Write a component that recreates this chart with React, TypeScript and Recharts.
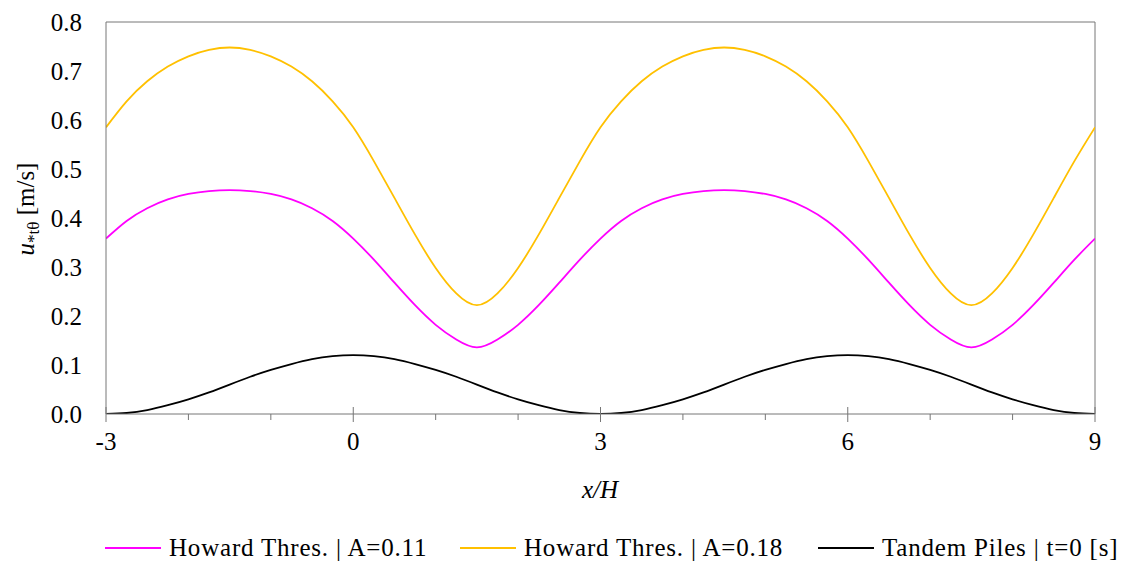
import React from "react";
import {
  LineChart,
  Line,
  XAxis,
  YAxis,
  Legend,
  ReferenceLine,
} from "recharts";

const FONT =
  "'Liberation Serif', Tinos, 'Times New Roman', Times, 'Nimbus Roman', 'DejaVu Serif', serif";

// x/H positions, step 0.25
const xValues = [
  -3, -2.75, -2.5, -2.25, -2, -1.75, -1.5, -1.25, -1, -0.75, -0.5, -0.25, 0,
  0.25, 0.5, 0.75, 1, 1.25, 1.5, 1.75, 2, 2.25, 2.5, 2.75, 3, 3.25, 3.5, 3.75,
  4, 4.25, 4.5, 4.75, 5, 5.25, 5.5, 5.75, 6, 6.25, 6.5, 6.75, 7, 7.25, 7.5,
  7.75, 8, 8.25, 8.5, 8.75, 9,
];

// Howard Thres. | A=0.11 (magenta)
const howard011 = [
  0.358, 0.394, 0.42, 0.438, 0.449, 0.455, 0.457, 0.455, 0.449, 0.438, 0.42,
  0.394, 0.358, 0.315, 0.268, 0.222, 0.182, 0.152, 0.136, 0.152, 0.182, 0.222,
  0.268, 0.315, 0.358, 0.394, 0.42, 0.438, 0.449, 0.455, 0.457, 0.455, 0.449,
  0.438, 0.42, 0.394, 0.358, 0.315, 0.268, 0.222, 0.182, 0.152, 0.136, 0.152,
  0.182, 0.222, 0.268, 0.315, 0.358,
];

// Howard Thres. | A=0.18 (yellow)
const howard018 = [
  0.585, 0.638, 0.679, 0.709, 0.73, 0.743, 0.748, 0.743, 0.73, 0.709, 0.679,
  0.638, 0.585, 0.516, 0.441, 0.366, 0.298, 0.246, 0.222, 0.246, 0.298, 0.366,
  0.441, 0.516, 0.585, 0.638, 0.679, 0.709, 0.73, 0.743, 0.748, 0.743, 0.73,
  0.709, 0.679, 0.638, 0.585, 0.516, 0.441, 0.366, 0.298, 0.246, 0.222, 0.246,
  0.298, 0.366, 0.441, 0.516, 0.585,
];

// Tandem Piles | t=0 [s] (black)
const tandemPiles = [
  0, 0.002, 0.008, 0.018, 0.03, 0.044, 0.06, 0.076, 0.09, 0.102, 0.112, 0.118,
  0.12, 0.118, 0.112, 0.102, 0.09, 0.076, 0.06, 0.044, 0.03, 0.018, 0.008,
  0.002, 0, 0.002, 0.008, 0.018, 0.03, 0.044, 0.06, 0.076, 0.09, 0.102, 0.112,
  0.118, 0.12, 0.118, 0.112, 0.102, 0.09, 0.076, 0.06, 0.044, 0.03, 0.018,
  0.008, 0.002, 0,
];

const xTicks = [-3, -2, -1, 0, 1, 2, 3, 4, 5, 6, 7, 8, 9];
const yTicks = [0, 0.1, 0.2, 0.3, 0.4, 0.5, 0.6, 0.7, 0.8];

const series = [
  { key: "a011", name: "Howard Thres. | A=0.11", color: "#ff00ff" },
  { key: "a018", name: "Howard Thres. | A=0.18", color: "#ffc000" },
  { key: "tandem", name: "Tandem Piles | t=0 [s]", color: "#000000" },
];

const data = xValues.map((x, i) => ({
  x,
  a011: howard011[i],
  a018: howard018[i],
  tandem: tandemPiles[i],
}));

const AXIS = "#767676";

const XTick = (props: any) => {
  const { x, y, payload } = props;
  const v = payload.value;
  const major = v % 3 === 0;
  return (
    <g>
      <line
        x1={x}
        x2={x}
        y1={major ? y - 7 : y}
        y2={major ? y + 8 : y + 6}
        stroke={AXIS}
        strokeWidth={1}
      />
      {major && (
        <text
          x={x}
          y={y + 36}
          textAnchor="middle"
          fontSize={25}
          style={{ fontFamily: FONT }}
          fill="#000"
        >
          {v}
        </text>
      )}
    </g>
  );
};

const XTitle = () => (
  <text
    x={600}
    y={498}
    textAnchor="middle"
    fontSize={25}
    fontStyle="italic"
    style={{ fontFamily: FONT }}
    fill="#000"
  >
    x/H
  </text>
);

const YTitle = () => (
  <text
    x={34}
    y={209}
    transform="rotate(-90, 34, 209)"
    textAnchor="middle"
    fontSize={25}
    style={{ fontFamily: FONT }}
    fill="#000"
  >
    <tspan fontStyle="italic">u</tspan>
    <tspan fontSize={17} dy={5}>
      *tθ
    </tspan>
    <tspan dy={-5}> [m/s]</tspan>
  </text>
);

const legendStarts = [105, 460, 818];

const renderLegend = () => (
  <div style={{ position: "relative", width: 1123, height: 34 }}>
    {series.map((s, i) => (
      <div
        key={s.key}
        style={{
          position: "absolute",
          left: legendStarts[i],
          top: 0,
          height: 34,
          display: "flex",
          alignItems: "center",
          whiteSpace: "nowrap",
          fontFamily: FONT,
          fontSize: 25,
          letterSpacing: 0.8,
          color: "#000",
        }}
      >
        <span
          style={{
            display: "inline-block",
            width: 56,
            height: 0,
            borderTop: `2px solid ${s.color}`,
            marginRight: 8,
          }}
        />
        <span>{s.name}</span>
      </div>
    ))}
  </div>
);

export default function App() {
  return (
    <div
      style={{
        position: "absolute",
        left: 0,
        top: 0,
        background: "#fff",
        fontFamily: FONT,
      }}
    >
      <LineChart
        width={1123}
        height={565}
        data={data}
        margin={{ top: 22, right: 28, bottom: 0, left: 26 }}
        style={{ fontFamily: FONT }}
      >
        <XAxis
          dataKey="x"
          type="number"
          domain={[-3, 9]}
          ticks={xTicks}
          interval={0}
          allowDataOverflow
          height={117}
          tickSize={0}
          tickMargin={0}
          tickLine={false}
          axisLine={{ stroke: AXIS, strokeWidth: 1 }}
          tick={<XTick />}
          label={<XTitle />}
        />
        <YAxis
          type="number"
          domain={[0, 0.8]}
          ticks={yTicks}
          interval={0}
          allowDataOverflow
          width={80}
          tickSize={0}
          tickMargin={24}
          tickLine={false}
          axisLine={{ stroke: AXIS, strokeWidth: 1 }}
          tickFormatter={(v: number) => v.toFixed(1)}
          tick={{ fontSize: 25, fill: "#000", style: { fontFamily: FONT } }}
          label={<YTitle />}
        />
        <ReferenceLine y={0.8} stroke={AXIS} strokeWidth={1} />
        <ReferenceLine x={9} stroke={AXIS} strokeWidth={1} />
        {series.map((s) => (
          <Line
            key={s.key}
            type="natural"
            dataKey={s.key}
            name={s.name}
            stroke={s.color}
            strokeWidth={1.8}
            dot={false}
            activeDot={false}
            isAnimationActive={false}
          />
        ))}
        <Legend
          verticalAlign="bottom"
          height={34}
          content={renderLegend}
          wrapperStyle={{ left: 0, width: 1123 }}
        />
      </LineChart>
    </div>
  );
}
